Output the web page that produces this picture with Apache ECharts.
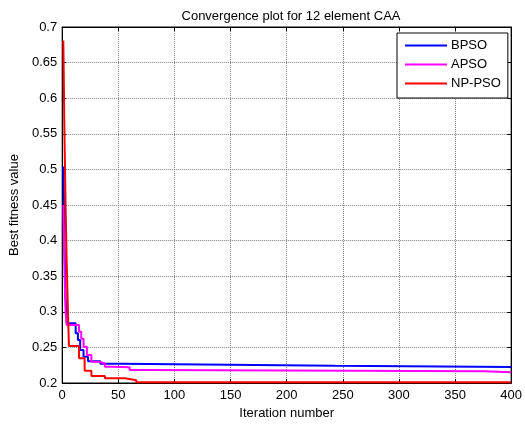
<!DOCTYPE html>
<html>
<head>
<meta charset="utf-8">
<script src="https://cdn.jsdelivr.net/npm/echarts@6/dist/echarts.min.js"></script>
<style>
html,body{margin:0;padding:0;background:#fff;}
#chart{width:525px;height:426px;}
</style>
</head>
<body>
<div id="chart"></div>
<script>
// ----- data (change points of the best-so-far curves) -----
var seriesNames = ['BPSO', 'APSO', 'NP-PSO'];
var xTicks = [0, 50, 100, 150, 200, 250, 300, 350, 400];
var yTicks = [0.2, 0.25, 0.3, 0.35, 0.4, 0.45, 0.5, 0.55, 0.6, 0.65, 0.7];

var bpsoIter = [1, 2, 3, 4, 12, 14, 16, 19, 23, 34, 53, 243, 400];
var bpsoVal  = [0.504, 0.40, 0.32, 0.284, 0.270, 0.2604, 0.2463, 0.2369, 0.2305, 0.227, 0.2243, 0.2225, 0.2225];

var apsoIter = [1, 2, 3, 4, 15, 17, 19, 22, 26, 32, 38, 44, 60, 77, 376, 400];
var apsoVal  = [0.45, 0.36, 0.30, 0.2815, 0.272, 0.262, 0.251, 0.2393, 0.2299, 0.2277, 0.2229, 0.222, 0.2183, 0.2165, 0.2152, 0.2152];

var npIter = [1, 2, 3, 4, 5, 6, 15, 20, 26, 38, 56, 66, 400];
var npVal  = [0.681, 0.55, 0.45, 0.37, 0.307, 0.252, 0.2347, 0.2173, 0.2098, 0.2066, 0.204, 0.201, 0.201];

var colors = ['#0000ff', '#ff00ff', '#ff0000'];

function pairs(xs, ys) { return xs.map(function (x, i) { return [x, ys[i]]; }); }

var chart = echarts.init(document.getElementById('chart'), null, {renderer: 'canvas'});
var font = 'Liberation Sans, Arial, sans-serif';
var fs = 13;

function fmtY(v) { return String(parseFloat(v.toFixed(2))); }

var gridL = 61.5, gridR = 10, gridT = 27, gridB = 43;

var option = {
  animation: false,
  backgroundColor: '#fff',
  title: {
    text: 'Convergence plot for 12 element CAA',
    left: 286, top: 5, textAlign: 'center',
    textStyle: {fontFamily: font, fontSize: fs, fontWeight: 'normal', color: '#000'}
  },
  legend: {
    data: seriesNames,
    orient: 'vertical',
    left: 397, top: 33,
    padding: [5, 7, 7, 8],
    itemGap: 4,
    itemWidth: 42, itemHeight: 2,
    icon: 'rect',
    backgroundColor: '#fff',
    borderColor: '#000', borderWidth: 1,
    textStyle: {fontFamily: font, fontSize: fs, color: '#000', lineHeight: 15, padding: [0, 0, 0, -1]}
  },
  grid: {left: gridL, right: gridR, top: gridT, bottom: gridB, show: true, borderColor: '#000', borderWidth: 1},
  xAxis: [{
    type: 'value', min: 0, max: 400, interval: 50,
    name: 'Iteration number', nameLocation: 'middle', nameGap: 23,
    nameTextStyle: {fontFamily: font, fontSize: fs, color: '#000'},
    axisLine: {show: true, onZero: false, lineStyle: {color: '#000', width: 1}},
    axisTick: {show: true, inside: true, length: 4, lineStyle: {color: '#000'}},
    axisLabel: {fontFamily: font, fontSize: fs, color: '#000', margin: 6},
    splitLine: {show: true, lineStyle: {color: '#808080', type: [1, 1], width: 1}}
  }, {
    type: 'value', min: 0, max: 400, interval: 50, position: 'top',
    axisLine: {show: true, onZero: false, lineStyle: {color: '#000', width: 1}},
    axisTick: {show: true, inside: true, length: 4, lineStyle: {color: '#000'}},
    axisLabel: {show: false}, splitLine: {show: false}
  }],
  yAxis: [{
    type: 'value', min: 0.2, max: 0.7, interval: 0.05,
    name: 'Best fitness value', nameLocation: 'middle', nameGap: 40,
    nameTextStyle: {fontFamily: font, fontSize: fs, color: '#000'},
    axisLine: {show: true, onZero: false, lineStyle: {color: '#000', width: 1}},
    axisTick: {show: true, inside: true, length: 4, lineStyle: {color: '#000'}},
    axisLabel: {fontFamily: font, fontSize: fs, color: '#000', margin: 5, formatter: fmtY},
    splitLine: {show: true, lineStyle: {color: '#808080', type: [1, 1], width: 1}}
  }, {
    type: 'value', min: 0.2, max: 0.7, interval: 0.05, position: 'right',
    axisLine: {show: true, onZero: false, lineStyle: {color: '#000', width: 1}},
    axisTick: {show: true, inside: true, length: 4, lineStyle: {color: '#000'}},
    axisLabel: {show: false}, splitLine: {show: false}
  }],
  series: [
    {name: seriesNames[0], type: 'line', step: 'end', data: pairs(bpsoIter, bpsoVal), symbol: 'none',
     lineStyle: {color: colors[0], width: 2}, itemStyle: {color: colors[0]}, z: 3},
    {name: seriesNames[1], type: 'line', step: 'end', data: pairs(apsoIter, apsoVal), symbol: 'none',
     lineStyle: {color: colors[1], width: 2}, itemStyle: {color: colors[1]}, z: 4},
    {name: seriesNames[2], type: 'line', step: 'end', data: pairs(npIter, npVal), symbol: 'none',
     lineStyle: {color: colors[2], width: 2}, itemStyle: {color: colors[2]}, z: 5}
  ]
};
chart.setOption(option);
</script>
</body>
</html>
